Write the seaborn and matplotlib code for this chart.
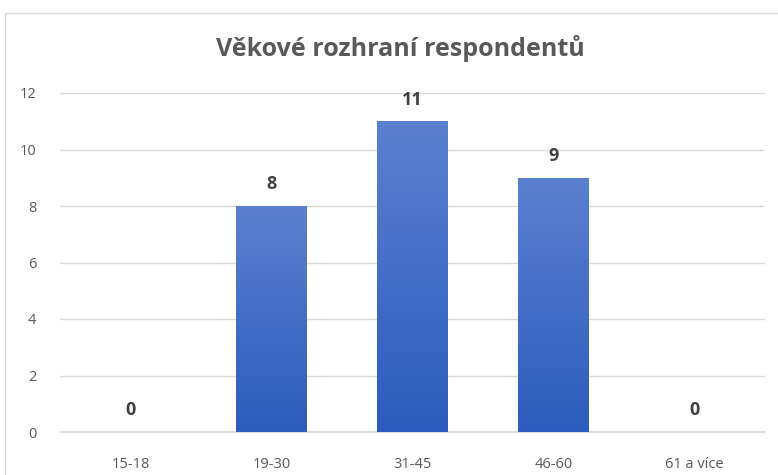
import numpy as np
import pandas as pd
import matplotlib
matplotlib.use("Agg")
import matplotlib.pyplot as plt
import seaborn as sns
from matplotlib.patches import Rectangle
from matplotlib.colors import LinearSegmentedColormap

# data
categories = ["15-18", "19-30", "31-45", "46-60", "61 a více"]
counts = [0, 8, 11, 9, 0]
title = "Věkové rozhraní respondentů"

df = pd.DataFrame({"vek": categories, "pocet": counts})

sns.set_theme(style="white")
plt.rcParams["font.family"] = ["Open Sans", "DejaVu Sans"]

fig = plt.figure(figsize=(7.78, 4.75), dpi=100)
ax = fig.add_axes([60 / 778, 1 - 432 / 475, 705 / 778, (432 - 93) / 475])

sns.barplot(data=df, x="vek", y="pocet", ax=ax, color="#3a67c6", width=0.5,
            saturation=1)

# Excel-style vertical gradient inside each bar
grad = LinearSegmentedColormap.from_list("g", ["#2c5cbd", "#5b80cf"])
for p in ax.patches:
    x0, y0 = p.get_x(), p.get_y()
    w, h = p.get_width(), p.get_height()
    if h <= 0:
        continue
    im = ax.imshow(np.linspace(0, 1, 100).reshape(-1, 1), cmap=grad, aspect="auto",
                   extent=[x0, x0 + w, y0, y0 + h], origin="lower", zorder=3)
    im.set_clip_path(p)
    p.set_edgecolor("none")

ax.set_xlim(-0.5, len(categories) - 0.5)
ax.set_ylim(0, 12)
ax.set_yticks(range(0, 13, 2))
ax.yaxis.grid(True, color="#d9d9d9", lw=1)
ax.set_axisbelow(True)
for s in ["top", "right", "left"]:
    ax.spines[s].set_visible(False)
ax.spines["bottom"].set_color("#d9d9d9")
ax.set_xlabel("")
ax.set_ylabel("")
ax.tick_params(axis="both", length=0, labelsize=10.5, colors="#595959")
ax.tick_params(axis="x", pad=18)
ax.tick_params(axis="y", pad=17)

for i, v in enumerate(counts):
    ax.text(i, v + 0.45, str(v), ha="center", va="bottom", fontsize=13,
            fontweight="bold", color="#404040")

fig.text(400 / 778, 1 - 48 / 475, title, ha="center", va="center", fontsize=18,
         fontweight="bold", color="#595959")

fig.patches.append(Rectangle((5 / 778, -0.1), 1.2, 1 - 13 / 475 + 0.1,
                             transform=fig.transFigure, fill=False,
                             edgecolor="#d9d9d9", lw=1))

fig.savefig("out.png", dpi=100)
